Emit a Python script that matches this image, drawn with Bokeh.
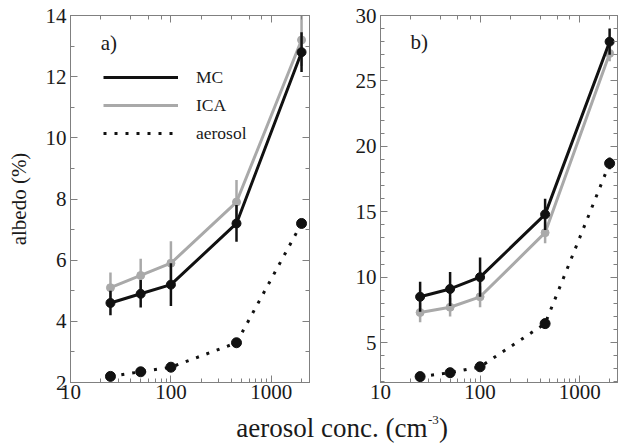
from bokeh.plotting import figure
from bokeh.models import (Range1d, LogAxis, LinearAxis, SingleIntervalTicker, LogTicker,
                          Legend, LegendItem, Label, NumeralTickFormatter)
from bokeh.layouts import row, column
from bokeh.embed import file_html
from bokeh.resources import INLINE
from bokeh.core.properties import value

# ---- data ----
conc = [25, 50, 100, 450, 2000]

a_mc = [4.6, 4.9, 5.2, 7.2, 12.8]
a_mc_err = [0.4, 0.45, 0.7, 0.6, 0.65]
a_ica = [5.1, 5.5, 5.9, 7.9, 13.2]
a_ica_err = [0.5, 0.55, 0.72, 0.72, 0.85]
a_aer = [2.2, 2.35, 2.5, 3.3, 7.2]
a_aer_err = [0.05, 0.05, 0.05, 0.08, 0.15]

b_mc = [8.5, 9.1, 10.0, 14.8, 28.0]
b_mc_err = [1.15, 1.3, 1.5, 1.2, 1.0]
b_ica = [7.3, 7.7, 8.5, 13.4, 27.1]
b_ica_err = [0.75, 0.7, 0.8, 0.8, 0.6]
b_aer = [2.4, 2.7, 3.15, 6.45, 18.7]
b_aer_err = [0.05, 0.05, 0.1, 0.1, 0.45]

legend_labels = ["MC", "ICA", "aerosol"]
xlabel_main = "aerosol conc. (cm"
xlabel_sup = "-3"
xlabel_end = ")"
ylabel = "albedo (%)"

FONT = "'Liberation Serif'"
AX = "#808080"
TXT = "#1a1a1a"
MC_C = "#111111"
ICA_C = "#a9a9a9"


def style_axis(ax, labels=True):
    ax.axis_line_color = AX
    ax.major_tick_line_color = AX
    ax.minor_tick_line_color = AX
    ax.major_tick_in = 7
    ax.major_tick_out = 0
    ax.minor_tick_in = 4
    ax.minor_tick_out = 0
    ax.major_label_text_font = FONT
    ax.major_label_text_color = TXT
    if labels:
        ax.major_label_text_font_size = "21px"
        ax.major_label_standoff = 2
    else:
        ax.major_label_text_font_size = "1px"
        ax.major_label_text_alpha = 0
        ax.major_label_standoff = 0


def panel(width, left_border, ylim, interval, nminor, mc, mc_e, ica, ica_e, aer, aer_e,
          tag, tag_pos, ylab=None):
    p = figure(width=width, height=408, x_axis_type="log",
               x_range=Range1d(10, 2400), y_range=Range1d(*ylim),
               toolbar_location=None, output_backend="svg",
               min_border_left=left_border, min_border_right=1,
               min_border_top=15, min_border_bottom=26)
    p.xgrid.grid_line_color = None
    p.ygrid.grid_line_color = None
    p.outline_line_color = AX
    p.background_fill_color = "white"
    p.border_fill_color = "white"

    p.yaxis.ticker = SingleIntervalTicker(interval=interval, num_minor_ticks=nminor)
    p.xaxis.formatter = NumeralTickFormatter(format="0")
    style_axis(p.xaxis[0])
    style_axis(p.yaxis[0])
    p.yaxis.major_label_standoff = 4
    if ylab:
        p.yaxis.axis_label = ylab
        p.yaxis.axis_label_text_font = FONT
        p.yaxis.axis_label_text_font_style = "normal"
        p.yaxis.axis_label_text_font_size = "21px"
        p.yaxis.axis_label_text_color = TXT
        p.yaxis.axis_label_standoff = 12

    top = LogAxis(ticker=LogTicker())
    style_axis(top, labels=False)
    p.add_layout(top, "above")
    right = LinearAxis(ticker=SingleIntervalTicker(interval=interval, num_minor_ticks=nminor))
    style_axis(right, labels=False)
    p.add_layout(right, "right")

    def lo(v, e):
        return [a - b for a, b in zip(v, e)]

    def hi(v, e):
        return [a + b for a, b in zip(v, e)]

    # ICA
    p.segment(x0=conc, y0=lo(ica, ica_e), x1=conc, y1=hi(ica, ica_e), line_color=ICA_C, line_width=2.5)
    r_ica = p.line(conc, ica, line_color=ICA_C, line_width=3)
    p.scatter(conc, ica, size=8, color=ICA_C)
    # MC
    p.segment(x0=conc, y0=lo(mc, mc_e), x1=conc, y1=hi(mc, mc_e), line_color=MC_C, line_width=2.5)
    r_mc = p.line(conc, mc, line_color=MC_C, line_width=3)
    p.scatter(conc, mc, size=9, color=MC_C)
    # aerosol
    p.segment(x0=conc, y0=lo(aer, aer_e), x1=conc, y1=hi(aer, aer_e), line_color=MC_C, line_width=2.5)
    r_aer = p.line(conc, aer, line_color=MC_C, line_width=3, line_dash="3 8")
    p.scatter(conc, aer, size=10, color=MC_C)

    p.add_layout(Label(x=tag_pos[0], y=tag_pos[1], text=tag, text_font=FONT,
                       text_font_size="21px", text_color=TXT, text_baseline="middle",
                       text_align="left"))
    return p, (r_mc, r_ica, r_aer)


pa, rends = panel(310, 70, (2, 14), 2, 2, a_mc, a_mc_err, a_ica, a_ica_err, a_aer, a_aer_err,
                  "a)", (20, 13.1), ylab=ylabel)
pb, _ = panel(308, 70, (1.95, 30), 5, 5, b_mc, b_mc_err, b_ica, b_ica_err, b_aer, b_aer_err,
              "b)", (20, 27.95))

legend = Legend(items=[LegendItem(label=l, renderers=[r]) for l, r in zip(legend_labels, rends)],
                location=(33, 235), glyph_width=75, glyph_height=28, label_height=28,
                label_standoff=18, spacing=0, padding=0, margin=0,
                border_line_color=None, background_fill_alpha=0,
                label_text_font=FONT, label_text_font_size="17.5px", label_text_color=TXT)
pa.add_layout(legend)

lf = figure(width=618, height=39, x_range=Range1d(0, 618), y_range=Range1d(0, 39),
            toolbar_location=None, output_backend="svg", min_border=0,
            x_axis_location=None, y_axis_location=None)
lf.xgrid.grid_line_color = None
lf.ygrid.grid_line_color = None
lf.outline_line_color = None
lf.text(x=[427], y=[20], text=[xlabel_main], text_align="right", text_baseline="alphabetic",
        text_font=value(FONT), text_font_size="27px", text_color=TXT)
lf.text(x=[427.5], y=[28], text=[xlabel_sup], text_align="left", text_baseline="alphabetic",
        text_font=value(FONT), text_font_size="13px", text_color=TXT)
lf.text(x=[438.5], y=[20], text=[xlabel_end], text_align="left", text_baseline="alphabetic",
        text_font=value(FONT), text_font_size="27px", text_color=TXT)

layout = column(row(pa, pb), lf)
open("out.html", "w").write(file_html(layout, INLINE))
